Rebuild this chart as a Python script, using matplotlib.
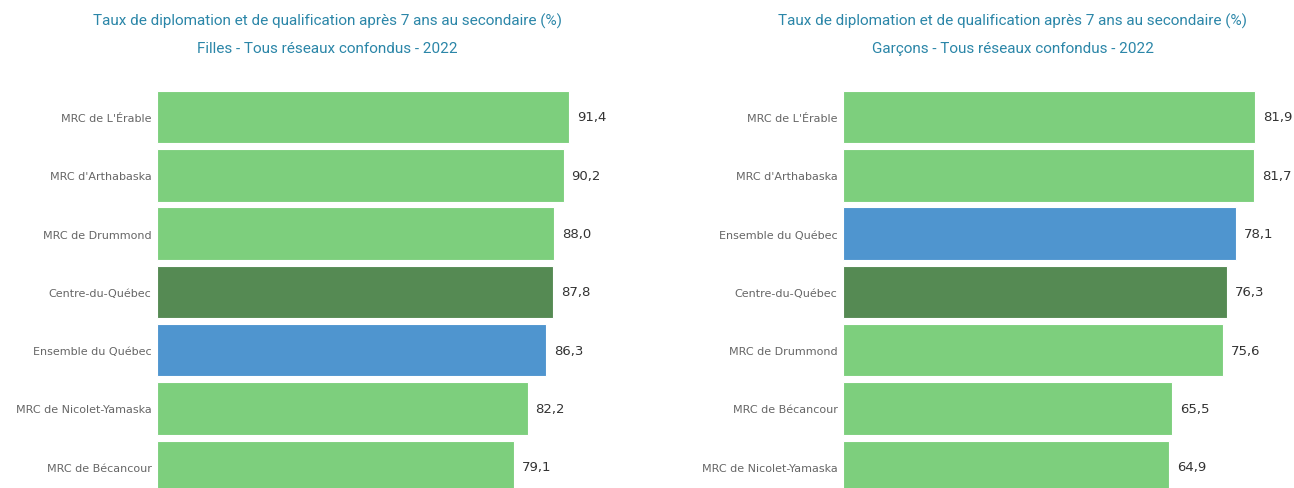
import matplotlib.pyplot as plt

W, H = 1294, 489

filles_labels = ["MRC de L'Érable", "MRC d'Arthabaska", "MRC de Drummond", "Centre-du-Québec",
                 "Ensemble du Québec", "MRC de Nicolet-Yamaska", "MRC de Bécancour"]
filles_values = [91.4, 90.2, 88.0, 87.8, 86.3, 82.2, 79.1]

garcons_labels = ["MRC de L'Érable", "MRC d'Arthabaska", "Ensemble du Québec", "Centre-du-Québec",
                  "MRC de Drummond", "MRC de Bécancour", "MRC de Nicolet-Yamaska"]
garcons_values = [81.9, 81.7, 78.1, 76.3, 75.6, 65.5, 64.9]

title_main = "Taux de diplomation et de qualification après 7 ans au secondaire (%)"
sub_filles = "Filles - Tous réseaux confondus - 2022"
sub_garcons = "Garçons - Tous réseaux confondus - 2022"

light_green = '#7dcf7d'
dark_green = '#558a53'
blue = '#4f95cf'
title_col = '#2b86a8'


def bar_color(name):
    if name == "Centre-du-Québec":
        return dark_green
    if name == "Ensemble du Québec":
        return blue
    return light_green


fig = plt.figure(figsize=(W / 100, H / 100), dpi=100)

pitch = 58.3      # px between bar centres
first_c = 118     # px, centre of first bar
top_px = 86
bar_len = 412     # px length of the longest bar


def make_panel(x0, width, labels, values, sub, title_cx):
    ax = fig.add_axes([x0 / W, 0, width / W, (H - top_px) / H])
    scale = bar_len / max(values)
    ax.set_xlim(0, width / scale)
    ax.set_ylim((H - first_c) / pitch, -(first_c - top_px) / pitch)
    cols = [bar_color(n) for n in labels]
    ax.barh(range(len(values)), values, height=0.9, color=cols, edgecolor='#ffffff', linewidth=0.8)
    for i, v in enumerate(values):
        ax.text(v + 8 / scale, i, f"{v:.1f}".replace('.', ','), va='center', ha='left',
                fontsize=9.5, color='#333333')
    ax.set_yticks(range(len(labels)))
    ax.set_yticklabels(labels, fontsize=8, color='#666666')
    ax.tick_params(axis='y', length=0, pad=4)
    ax.set_xticks([])
    for s in ax.spines.values():
        s.set_visible(False)
    fig.text(title_cx / W, 1 - 21 / H, title_main, ha='center', va='center',
             fontsize=11, color=title_col, family='Roboto')
    fig.text(title_cx / W, 1 - 49 / H, sub, ha='center', va='center',
             fontsize=11, color=title_col, family='Roboto')


make_panel(157, 470, filles_labels, filles_values, sub_filles, 327)
make_panel(843, 440, garcons_labels, garcons_values, sub_garcons, 1013)

fig.savefig('out.png', dpi=100)
